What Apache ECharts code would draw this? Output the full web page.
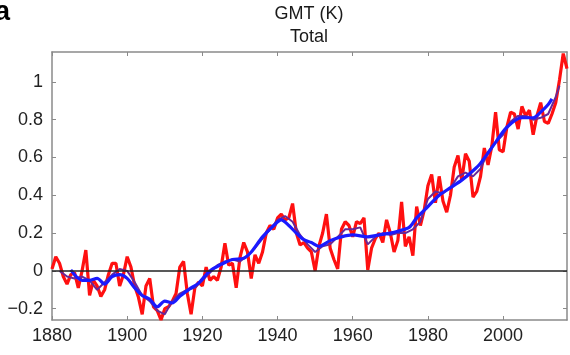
<!DOCTYPE html>
<html>
<head>
<meta charset="utf-8">
</head>
<body style="margin:0">
<div id="container" style="width:570px;height:355px;"></div>
<script src="https://cdn.jsdelivr.net/npm/echarts@6/dist/echarts.min.js"></script>
<script>
// annual values, 1880-2017 (red)
var redStart = 1880;
var redValues = [
  0.01, 0.075, 0.04, -0.03, -0.07, -0.02, -0.01, -0.09, 0.0, 0.11,
  -0.13, -0.05, -0.08, -0.135, -0.10, -0.02, 0.04, 0.04, -0.08, -0.02,
  0.075, 0.02, -0.08, -0.14, -0.23, -0.08, -0.04, -0.19, -0.21, -0.26,
  -0.20, -0.19, -0.16, -0.12, 0.02, 0.05, -0.12, -0.23, -0.09, -0.06,
  -0.08, 0.02, -0.05, -0.03, -0.05, 0.02, 0.146, 0.03, 0.04, -0.09,
  0.07, 0.15, 0.10, -0.04, 0.085, 0.04, 0.10, 0.20, 0.24, 0.22,
  0.28, 0.30, 0.27, 0.28, 0.356, 0.20, 0.137, 0.15, 0.12, 0.10,
  0.0, 0.13, 0.20, 0.30, 0.12, 0.06, 0.01, 0.22, 0.26, 0.24,
  0.18, 0.26, 0.25, 0.28, 0.005, 0.12, 0.17, 0.20, 0.15, 0.27,
  0.20, 0.10, 0.16, 0.365, 0.13, 0.18, 0.08, 0.34, 0.24, 0.32,
  0.45, 0.51, 0.36, 0.50, 0.37, 0.31, 0.40, 0.55, 0.61, 0.48,
  0.62, 0.58, 0.39, 0.42, 0.50, 0.65, 0.56, 0.66, 0.84, 0.64,
  0.63, 0.76, 0.84, 0.83, 0.75, 0.87, 0.82, 0.85, 0.72, 0.82,
  0.89, 0.79, 0.78, 0.83, 0.89, 1.01, 1.15, 1.07
];

// purple (running mean)
var purpleYears = [1882, 1884, 1886, 1888, 1890, 1892, 1894, 1896, 1898, 1900,
  1902, 1904, 1906, 1908, 1910, 1912, 1914, 1916, 1918, 1920,
  1922, 1924, 1926, 1928, 1930, 1932, 1934, 1936, 1938, 1940,
  1942, 1944, 1946, 1948, 1950, 1952, 1954, 1956, 1958, 1960,
  1962, 1964, 1966, 1968, 1970, 1972, 1974, 1976, 1978, 1980,
  1982, 1984, 1986, 1988, 1990, 1992, 1994, 1996, 1998, 2000,
  2002, 2004, 2006, 2008, 2010, 2012, 2014, 2015];
var purpleValues = [0.0, -0.03, -0.04, -0.03, -0.05, -0.10, -0.06, -0.02, 0.01, 0.0,
  -0.06, -0.13, -0.16, -0.21, -0.23, -0.16, -0.12, -0.10, -0.09, -0.05,
  -0.01, 0.03, 0.05, 0.06, 0.05, 0.08, 0.12, 0.17, 0.22, 0.27,
  0.29, 0.26, 0.19, 0.14, 0.10, 0.13, 0.14, 0.18, 0.22, 0.22,
  0.23, 0.14, 0.18, 0.20, 0.19, 0.20, 0.20, 0.22, 0.26, 0.38,
  0.42, 0.41, 0.44, 0.50, 0.52, 0.50, 0.54, 0.63, 0.68, 0.72,
  0.79, 0.82, 0.82, 0.80, 0.81, 0.83, 0.92, 0.98];

// blue (smooth)
var blueYears = [1885, 1888, 1890, 1892, 1894, 1896, 1898, 1900, 1902, 1904,
  1906, 1908, 1910, 1912, 1914, 1917, 1919, 1922, 1925, 1928,
  1931, 1933, 1936, 1939, 1941, 1943, 1945, 1947, 1949, 1951,
  1954, 1957, 1960, 1964, 1967, 1970, 1972, 1975, 1977, 1980,
  1983, 1986, 1989, 1992, 1994, 1998, 2001, 2005, 2008, 2010, 2012, 2013];
var blueValues = [0.005, -0.05, -0.05, -0.04, -0.07, -0.03, -0.02, -0.04, -0.09, -0.13,
  -0.15, -0.19, -0.16, -0.17, -0.135, -0.09, -0.065, 0.0, 0.034, 0.06,
  0.067, 0.10, 0.18, 0.24, 0.27, 0.24, 0.2, 0.165, 0.15, 0.13,
  0.16, 0.18, 0.19, 0.18, 0.19, 0.20, 0.21, 0.23, 0.28, 0.34,
  0.40, 0.44, 0.48, 0.53, 0.57, 0.68, 0.76, 0.81, 0.81, 0.84, 0.88, 0.91];

var xTicks = [1880, 1900, 1920, 1940, 1960, 1980, 2000];
var yTicks = [-0.2, 0, 0.2, 0.4, 0.6, 0.8, 1];

var redData = redValues.map(function (v, i) { return [redStart + i, v]; });
var purpleData = purpleYears.map(function (y, i) { return [y, purpleValues[i]]; });
var blueData = blueYears.map(function (y, i) { return [y, blueValues[i]]; });

var font = 'Liberation Sans, Arial, sans-serif';
var axisCol = '#8a8a8a';
var yMin = -0.26, yMax = 1.158;

function frameAxis(pos, isX) {
  var ax = {
    type: 'value', position: pos,
    min: isX ? 1880 : yMin, max: isX ? 2017 : yMax,
    axisLine: { show: true, onZero: false, lineStyle: { color: axisCol, width: 1.5 } },
    axisTick: { show: true, inside: true, length: 4, customValues: isX ? xTicks : yTicks, lineStyle: { color: axisCol } },
    axisLabel: { show: false },
    splitLine: { show: false }
  };
  return ax;
}

var xBottom = frameAxis('bottom', true);
xBottom.axisLabel = {
  show: true, customValues: xTicks, fontSize: 18, color: '#222', fontFamily: font, margin: 7,
  formatter: function (v) { return String(v); }
};
var yLeft = frameAxis('left', false);
yLeft.axisLabel = {
  show: true, customValues: yTicks, fontSize: 18, color: '#222', fontFamily: font, margin: 9,
  formatter: function (v) { return String(Math.round(v * 10) / 10).replace('-', '\u2212'); }
};

var myChart = echarts.init(document.getElementById('container'));
var option = {
  animation: false,
  grid: { left: 52, right: 3, top: 52, bottom: 35 },
  graphic: [
    { type: 'text', x: -5, y: -1, style: { text: 'a', font: 'bold 27px ' + font, fill: '#000' } },
    { type: 'text', x: 309, y: 5, style: { text: 'GMT (K)', font: '18px ' + font, fill: '#1a1a1a', textAlign: 'center' } },
    { type: 'text', x: 309, y: 28, style: { text: 'Total', font: '18px ' + font, fill: '#1a1a1a', textAlign: 'center' } }
  ],
  xAxis: [xBottom, frameAxis('top', true)],
  yAxis: [yLeft, frameAxis('right', false)],
  series: [
    {
      type: 'line', data: redData, showSymbol: false, symbol: 'none',
      lineStyle: { color: '#ff1010', width: 3.2 },
      markLine: {
        silent: true, symbol: 'none', label: { show: false },
        lineStyle: { color: '#222', width: 1.6, type: 'solid' },
        data: [{ yAxis: 0 }]
      },
      z: 2
    },
    {
      type: 'line', data: purpleData, showSymbol: false, symbol: 'none',
      lineStyle: { color: '#6a2896', width: 2 }, z: 3
    },
    {
      type: 'line', data: blueData, showSymbol: false, symbol: 'none', smooth: 0.3,
      lineStyle: { color: '#1a1aff', width: 3.2 }, z: 4
    }
  ]
};
myChart.setOption(option);
</script>
</body>
</html>
